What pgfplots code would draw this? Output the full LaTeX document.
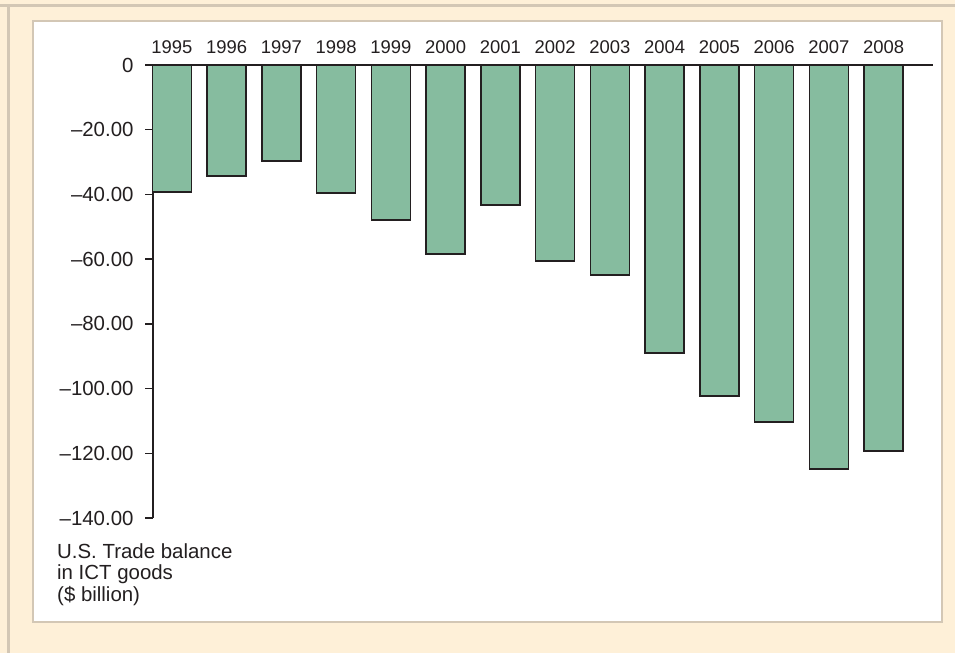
\documentclass[border=0pt]{standalone}
\usepackage{pgfplots}
\pgfplotsset{compat=1.18}
\usepackage{fontspec}
\setmainfont{Liberation Sans}
\definecolor{cream}{HTML}{FEF0D8}
\definecolor{tanb}{HTML}{D3C7B5}
\definecolor{barg}{HTML}{86BC9F}
\definecolor{txt}{HTML}{231F20}
\begin{document}
\begin{tikzpicture}
\fill[cream] (0,0) rectangle (955bp,-653bp);
\fill[tanb] (0,-4bp) rectangle (955bp,-7bp);
\fill[tanb] (7bp,-4bp) rectangle (10bp,-653bp);
\filldraw[fill=white, draw=tanb, line width=2.5bp] (33bp,-21bp) rectangle (942bp,-622bp);
\begin{axis}[
  at={(153bp,-65bp)}, anchor=north west,
  scale only axis, width=780bp, height=453bp,
  xmin=-0.345, xmax=13.9, ymin=-140, ymax=0,
  axis x line*=top, axis y line*=left,
  axis line style={line width=1.8bp, color=txt, -},
  xtick={0,1,2,3,4,5,6,7,8,9,10,11,12,13},
  xticklabels={1995,1996,1997,1998,1999,2000,2001,2002,2003,2004,2005,2006,2007,2008},
  x tick style={draw=none},
  ytick={-140,-120,-100,-80,-60,-40,-20,0},
  yticklabels={–140.00,–120.00,–100.00,–80.00,–60.00,–40.00,–20.00,0},
  y tick style={line width=1.5bp, color=txt},
  tick align=outside, major tick length=8bp,
  xticklabel style={font=\fontsize{18.5}{18.5}\selectfont, text=txt},
  yticklabel style={font=\fontsize{20.5}{20.5}\selectfont, text=txt, xshift=-8bp},
  ybar, bar width=39bp, clip=false,
]
\addplot[fill=barg, draw=txt, line width=1.5bp] coordinates {
(0,-39.3) (1,-34.3) (2,-29.7) (3,-39.6) (4,-47.9) (5,-58.4) (6,-43.3)
(7,-60.6) (8,-64.9) (9,-89.0) (10,-102.3) (11,-110.3) (12,-124.8) (13,-119.3)
};
\end{axis}
\node[anchor=north west, align=left, inner sep=0pt, font=\fontsize{20.5}{22}\selectfont, text=txt] at (57bp,-543bp) {U.S. Trade balance\\in ICT goods\\(\$ billion)};
\end{tikzpicture}
\end{document}
